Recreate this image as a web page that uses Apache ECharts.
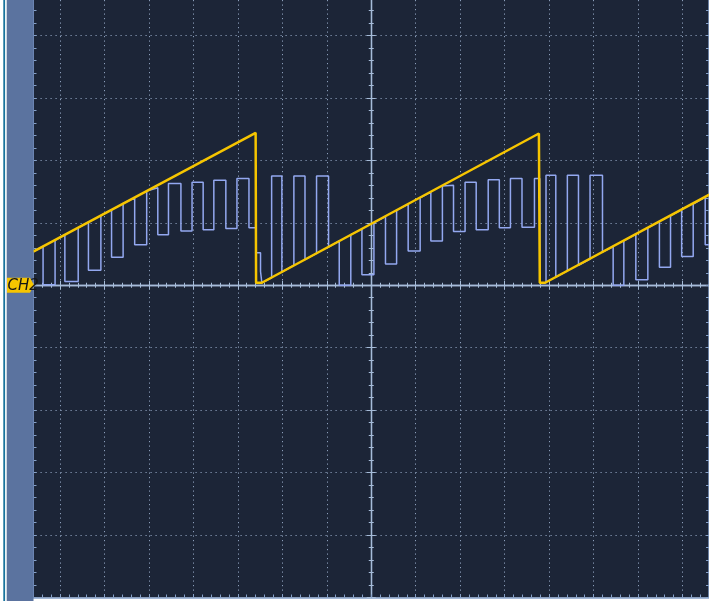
<!DOCTYPE html>
<html>
<head>
<meta charset="utf-8">
<title>scope capture</title>
<script src="https://cdn.jsdelivr.net/npm/echarts@6.0.0/dist/echarts.min.js"></script>
<style>
  html, body { margin: 0; padding: 0; background: #fff; }
  #chart { width: 709px; height: 601px; }
</style>
</head>
<body>
<div id="chart"></div>
<script>
// all values in screen divisions (center = 0), visible part is about -7.6 .. 7.6
const xExtent = [-8, 8]
const yExtent = [-5, 5]
const markerLabel = 'CH2'

// yellow sawtooth [time, level]
const rampTrace = [
  [-7.6, 0.54], [-2.6, 2.44], [-2.59, 0.04], [-2.46, 0.04],
  [3.77, 2.43], [3.79, 0.04], [3.91, 0.04], [7.6, 1.45]
]

// blue pulse train [time, level]
const pulseTrace = [
  [-7.6, 0.54], [-7.38, 0.62], [-7.38, 0.01], [-7.11, 0.01], [-7.11, 0.72], [-6.89, 0.81],
  [-6.89, 0.06], [-6.59, 0.06], [-6.59, 0.92], [-6.36, 1.01], [-6.36, 0.24], [-6.08, 0.24],
  [-6.08, 1.12], [-5.84, 1.21], [-5.84, 0.45], [-5.58, 0.45], [-5.58, 1.31], [-5.32, 1.40],
  [-5.32, 0.65], [-5.05, 0.65], [-5.05, 1.51], [-4.8, 1.56], [-4.8, 0.81], [-4.56, 0.81],
  [-4.56, 1.63], [-4.28, 1.63], [-4.28, 0.87], [-4.03, 0.87], [-4.03, 1.65], [-3.78, 1.65],
  [-3.78, 0.89], [-3.54, 0.89], [-3.54, 1.68], [-3.27, 1.68], [-3.27, 0.91], [-3.02, 0.91],
  [-3.02, 1.71], [-2.75, 1.71], [-2.75, 0.92], [-2.59, 0.92], [-2.59, 0.52], [-2.49, 0.52],
  [-2.49, 0.22], [-2.46, 0.22], [-2.46, 0.04], [-2.24, 0.12], [-2.24, 1.75], [-2.01, 1.75],
  [-2.01, 0.21], [-1.74, 0.32], [-1.74, 1.75], [-1.49, 1.75], [-1.49, 0.41], [-1.23, 0.51],
  [-1.23, 1.75], [-0.96, 1.75], [-0.96, 0.61], [-0.72, 0.71], [-0.72, 0.0], [-0.46, 0.0],
  [-0.46, 0.81], [-0.21, 0.9], [-0.21, 0.17], [0.06, 0.17], [0.06, 1.0], [0.32, 1.1],
  [0.32, 0.34], [0.57, 0.34], [0.57, 1.2], [0.83, 1.3], [0.83, 0.55], [1.1, 0.55],
  [1.1, 1.4], [1.34, 1.49], [1.34, 0.71], [1.6, 0.71], [1.6, 1.59], [1.85, 1.6],
  [1.85, 0.86], [2.11, 0.86], [2.11, 1.65], [2.36, 1.65], [2.36, 0.89], [2.63, 0.89],
  [2.63, 1.69], [2.88, 1.69], [2.88, 0.92], [3.13, 0.92], [3.13, 1.71], [3.39, 1.71],
  [3.39, 0.93], [3.67, 0.93], [3.67, 1.71], [3.79, 1.71], [3.79, 0.04], [3.93, 0.04],
  [3.93, 1.76], [4.15, 1.76], [4.15, 0.13], [4.41, 0.23], [4.41, 1.76], [4.66, 1.76],
  [4.66, 0.32], [4.92, 0.42], [4.92, 1.76], [5.2, 1.76], [5.2, 0.53], [5.44, 0.62],
  [5.44, 0.0], [5.68, 0.0], [5.68, 0.71], [5.95, 0.82], [5.95, 0.09], [6.22, 0.09],
  [6.22, 0.92], [6.48, 1.02], [6.48, 0.29], [6.73, 0.29], [6.73, 1.11], [6.98, 1.21],
  [6.98, 0.46], [7.24, 0.46], [7.24, 1.3], [7.51, 1.41], [7.51, 0.65], [7.6, 0.65]
]

const dotColor = '#8c9fbb'
const frameColor = '#86a1c9'
const centerColor = '#a6bcd9'

// one value axis, ticks only, used for frame + center cross
function scopeAxis(dim, extra) {
  const ext = dim === 'x' ? xExtent : yExtent
  return Object.assign({
    type: 'value',
    min: ext[0],
    max: ext[1],
    interval: 1,
    axisLabel: { show: false },
    splitLine: { show: false },
    axisLine: { show: true, onZero: false, lineStyle: { color: frameColor, width: 1.5 } },
    axisTick: { show: true, inside: true, length: 3, lineStyle: { color: frameColor } },
    minorTick: { show: true, splitNumber: 5, length: 3, lineStyle: { color: frameColor } }
  }, extra)
}

// center cross lines
const crossLine = { show: true, onZero: true, lineStyle: { color: centerColor, width: 1.3 } }
const crossTick = { show: true, inside: true, length: 4.5, lineStyle: { color: centerColor } }
const crossMinor = { show: true, splitNumber: 5, length: 2.5, lineStyle: { color: centerColor } }

const chart = echarts.init(document.getElementById('chart'))

chart.setOption({
  animation: false,
  backgroundColor: '#ffffff',
  grid: {
    left: 15.5,
    top: -27,
    width: 711.5,
    height: 624.5,
    show: true,
    backgroundColor: '#1c2537',
    borderWidth: 0,
    outerBoundsMode: 'none'
  },
  xAxis: [
    // bottom frame + vertical dotted grid
    scopeAxis('x', {
      position: 'bottom',
      splitLine: { show: true, showMinLine: false, showMaxLine: false, lineStyle: { color: dotColor, width: 1, type: [1.2, 3.3] } }
    }),
    scopeAxis('x', { position: 'top', axisLine: crossLine, axisTick: crossTick, minorTick: crossMinor }),
    scopeAxis('x', { position: 'bottom', axisLine: crossLine, axisTick: crossTick, minorTick: crossMinor })
  ],
  yAxis: [
    // left frame + horizontal dotted grid
    scopeAxis('y', {
      position: 'left',
      offset: -18,
      axisLine: { show: true, onZero: false, lineStyle: { color: '#7f99c4', width: 1 } },
      splitLine: { show: true, showMinLine: false, showMaxLine: false, lineStyle: { color: dotColor, width: 1, type: [1.2, 3.8] } }
    }),
    scopeAxis('y', { position: 'right', offset: -18 }),
    scopeAxis('y', { position: 'left', axisLine: crossLine, axisTick: crossTick, minorTick: crossMinor }),
    scopeAxis('y', { position: 'right', axisLine: crossLine, axisTick: crossTick, minorTick: crossMinor })
  ],
  series: [
    {
      name: 'CH1',
      type: 'line',
      xAxisIndex: 0,
      yAxisIndex: 0,
      data: pulseTrace,
      showSymbol: false,
      clip: true,
      lineStyle: { color: '#93a8f0', width: 1.5 },
      z: 3
    },
    {
      name: markerLabel,
      type: 'line',
      xAxisIndex: 0,
      yAxisIndex: 0,
      data: rampTrace,
      showSymbol: false,
      clip: true,
      lineStyle: { color: '#f6c500', width: 2.5 },
      z: 4
    }
  ]
})

// side panel + ground marker, marker placed at level 0 of the axis
const groundY = chart.convertToPixel({ yAxisIndex: 0 }, 0)

chart.setOption({
  graphic: [
    { type: 'rect', id: 'stripe', z: 50, shape: { x: 3.3, y: 0, width: 1.8, height: 601 }, style: { fill: '#17729c' } },
    { type: 'rect', id: 'panel', z: 50, shape: { x: 6.7, y: 0, width: 26.8, height: 601 }, style: { fill: '#5b739f' } },
    {
      type: 'polygon',
      id: 'marker',
      z: 60,
      shape: { points: [[7, groundY - 7.5], [30, groundY - 7.5], [34, groundY], [30, groundY + 7.5], [7, groundY + 7.5]] },
      style: { fill: '#f6c500' }
    },
    {
      type: 'text',
      id: 'markerText',
      z: 61,
      x: 7.5,
      y: groundY + 1,
      style: {
        text: markerLabel,
        fill: '#151515',
        font: 'italic 15px "DejaVu Sans"',
        verticalAlign: 'middle'
      }
    }
  ]
})
</script>
</body>
</html>
